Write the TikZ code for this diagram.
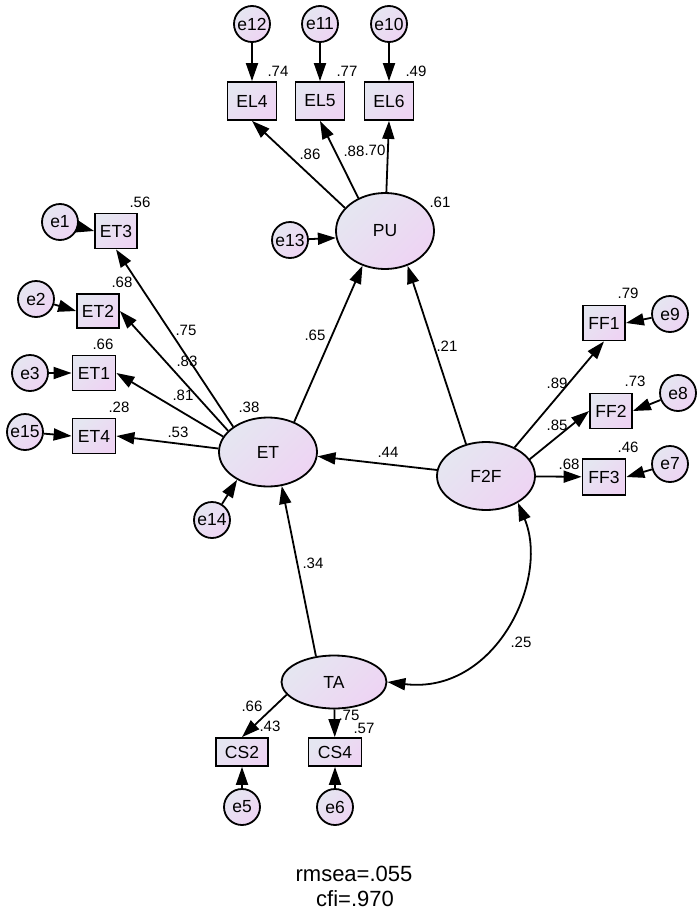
\documentclass[tikz,border=0pt]{standalone}
\usepackage{fontspec}
\setmainfont{Liberation Sans}
\usetikzlibrary{shapes.geometric,arrows.meta}
\definecolor{gA}{RGB}{229,230,241}
\definecolor{gB}{RGB}{238,212,243}
\begin{document}
\begin{tikzpicture}[x=1pt,y=-1pt,
  lat/.style={ellipse,draw,line width=1.8pt,top color=gA,bottom color=gB,shading angle=45,inner sep=0pt,font=\fontsize{17.5}{20}\selectfont},
  err/.style={circle,draw,line width=1.8pt,top color=gA,bottom color=gB,shading angle=45,inner sep=0pt,minimum size=36pt,font=\fontsize{17.5}{20}\selectfont},
  obs/.style={rectangle,draw,line width=1.8pt,top color=gA,bottom color=gB,shading angle=45,inner sep=0pt,font=\fontsize{17.5}{20}\selectfont},
  arr/.style={line width=1.8pt,-{Triangle[length=18pt,width=12pt]}},
  cov/.style={line width=1.8pt,{Triangle[length=18pt,width=12pt]}-{Triangle[length=18pt,width=12pt]}},
  lbl/.style={font=\fontsize{15}{17}\selectfont,inner sep=0pt},
  fit/.style={font=\fontsize{22}{24}\selectfont,inner sep=0pt}]
\useasboundingbox (0,0) rectangle (700,913);
% latent variables
\node[lat,minimum width=98pt,minimum height=76pt] (PU) at (385,231) {PU};
\node[lat,minimum width=98pt,minimum height=69pt] (ET) at (268,452) {ET};
\node[lat,minimum width=98pt,minimum height=68pt] (F2F) at (486,476) {F2F};
\node[lat,minimum width=105pt,minimum height=53pt] (TA) at (334,682) {TA};
% EL indicators
\node[obs,minimum width=49pt,minimum height=38pt] (EL4) at (252,101) {EL4};
\node[obs,minimum width=49pt,minimum height=38pt] (EL5) at (320,101) {EL5};
\node[obs,minimum width=49pt,minimum height=38pt] (EL6) at (389,101) {EL6};
\node[err] (e12) at (252,24) {e12};
\node[err] (e11) at (320,24) {e11};
\node[err] (e10) at (389,24) {e10};
\node[err] (e13) at (290,240) {e13};
% ET indicators
\node[obs,minimum width=42pt,minimum height=35pt] (ET3) at (116,231) {ET3};
\node[obs,minimum width=42pt,minimum height=34pt] (ET2) at (98,311) {ET2};
\node[obs,minimum width=43pt,minimum height=35pt] (ET1) at (94,373) {ET1};
\node[obs,minimum width=43pt,minimum height=35pt] (ET4) at (94,436) {ET4};
\node[err] (e1) at (60,222) {e1};
\node[err] (e2) at (36,299) {e2};
\node[err] (e3) at (30,373) {e3};
\node[err] (e15) at (25,432) {e15};
\node[err] (e14) at (212,520) {e14};
% FF indicators
\node[obs,minimum width=42pt,minimum height=35pt] (FF1) at (604,323) {FF1};
\node[obs,minimum width=42pt,minimum height=35pt] (FF2) at (611,411) {FF2};
\node[obs,minimum width=43pt,minimum height=36pt] (FF3) at (604,477) {FF3};
\node[err] (e9) at (670,314) {e9};
\node[err] (e8) at (678,393) {e8};
\node[err] (e7) at (670,464) {e7};
% CS indicators
\node[obs,minimum width=52pt,minimum height=28pt] (CS2) at (242,752) {CS2};
\node[obs,minimum width=53pt,minimum height=28pt] (CS4) at (335,752) {CS4};
\node[err] (e5) at (242,807) {e5};
\node[err] (e6) at (335,807) {e6};
% arrows
\draw[arr] (e12) -- (EL4);
\draw[arr] (e11) -- (EL5);
\draw[arr] (e10) -- (EL6);
\draw[arr] (PU.150) -- (EL4.south);
\draw[arr] (PU.129) -- (EL5.south);
\draw[arr] (PU.88) -- (EL6.south);
\draw[arr] (e13) -- (PU.188);
\draw[arr] (ET.49) -- (PU.237);
\draw[arr] (F2F.122) -- (PU.303);
\draw[arr] (e1) -- (ET3.west);
\draw[arr] (e2) -- (ET2.west);
\draw[arr] (e3) -- (ET1.west);
\draw[arr] (e15) -- (ET4.west);
\draw[arr] (ET.144) -- (ET3.south);
\draw[arr] (ET.152) -- (ET2.east);
\draw[arr] (ET.161) -- (ET1.east);
\draw[arr] (ET.176) -- (ET4.east);
\draw[arr] (e14) -- (ET.222);
\draw[arr] (F2F.173) -- (ET.355);
\draw[arr] (TA.125) -- (ET.292);
\draw[arr] (F2F.45) -- (FF1.south);
\draw[arr] (F2F.21) -- (FF2.west);
\draw[arr] (F2F) -- (FF3);
\draw[arr] (e9) -- (FF1.east);
\draw[arr] (e8) -- (FF2.east);
\draw[arr] (e7) -- (FF3.east);
\draw[arr] (TA.195) -- (CS2.north);
\draw[arr] (TA) -- (CS4);
\draw[arr] (e5) -- (CS2);
\draw[arr] (e6) -- (CS4);
\draw[cov] (F2F.320) .. controls (550,580) and (495,695) .. (TA.east);
% labels
\node[lbl] (l1) at (278,71) {.74};
\node[lbl] (l2) at (347,71) {.77};
\node[lbl] (l3) at (416,71) {.49};
\node[lbl] (l4) at (310,154) {.86};
\node[lbl] (l5) at (354,151) {.88};
\node[lbl] (l6) at (375,150) {.70};
\node[lbl] (l7) at (440,202) {.61};
\node[lbl] (l8) at (140,202) {.56};
\node[lbl] (l9) at (122,282) {.68};
\node[lbl] (l10) at (186,330) {.75};
\node[lbl] (l11) at (187,361) {.83};
\node[lbl] (l12) at (103,344) {.66};
\node[lbl] (l13) at (183,395) {.81};
\node[lbl] (l14) at (119,407) {.28};
\node[lbl] (l15) at (249,407) {.38};
\node[lbl] (l16) at (178,432) {.53};
\node[lbl] (l17) at (315,335) {.65};
\node[lbl] (l18) at (447,346) {.21};
\node[lbl] (l19) at (628,293) {.79};
\node[lbl] (l20) at (557,383) {.89};
\node[lbl] (l21) at (635,381) {.73};
\node[lbl] (l22) at (557,425) {.85};
\node[lbl] (l23) at (628,447) {.46};
\node[lbl] (l24) at (569,464) {.68};
\node[lbl] (l25) at (388,452) {.44};
\node[lbl] (l26) at (313,563) {.34};
\node[lbl] (l27) at (521,642) {.25};
\node[lbl] (l28) at (252,706) {.66};
\node[lbl] (l29) at (270,726) {.43};
\node[lbl] (l30) at (349,715) {.75};
\node[lbl] (l31) at (364,728) {.57};
\node[fit] (fit1) at (354,874) {rmsea=.055};
\node[fit] (fit2) at (355,899) {cfi=.970};
\end{tikzpicture}
\end{document}
